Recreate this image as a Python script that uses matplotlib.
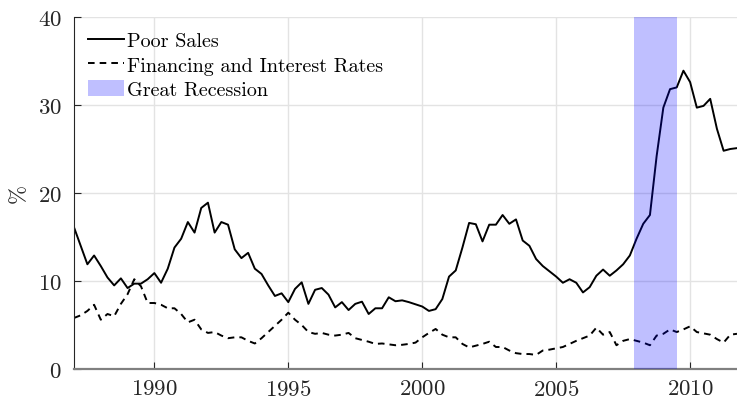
import numpy as np
import matplotlib
matplotlib.use("Agg")
import matplotlib.pyplot as plt
from matplotlib.patches import Patch
from matplotlib.lines import Line2D

# quarterly, 1987Q1 .. 2011Q4
start_year = 1987
poor_sales = [
    16.1, 14.0, 11.9, 12.9, 11.7, 10.4, 9.5, 10.3, 9.2, 9.7, 9.7, 10.2,
    10.9, 9.8, 11.4, 13.8, 14.8, 16.7, 15.5, 18.3, 18.9, 15.5, 16.7, 16.4,
    13.6, 12.6, 13.2, 11.4, 10.8, 9.5, 8.3, 8.6, 7.6, 9.1, 9.85, 7.4,
    9.0, 9.2, 8.45, 7.0, 7.6, 6.7, 7.4, 7.65, 6.25, 6.9, 6.9, 8.15,
    7.7, 7.8, 7.6, 7.35, 7.1, 6.6, 6.8, 7.95, 10.5, 11.2, 13.8, 16.6,
    16.45, 14.5, 16.4, 16.4, 17.5, 16.5, 17.0, 14.6, 14.0, 12.5, 11.7, 11.1,
    10.5, 9.8, 10.2, 9.8, 8.7, 9.3, 10.6, 11.3, 10.6, 11.2, 11.9, 12.9,
    14.8, 16.5, 17.5, 24.2, 29.7, 31.8, 32.0, 33.9, 32.6, 29.7, 29.9, 30.7,
    27.3, 24.8, 25.0, 25.1,
]
financing = [
    5.8, 6.1, 6.6, 7.3, 5.6, 6.25, 6.0, 7.4, 8.5, 10.2, 9.4, 7.5,
    7.5, 7.3, 6.9, 6.9, 6.25, 5.3, 5.6, 4.5, 4.1, 4.2, 3.8, 3.5,
    3.6, 3.6, 3.2, 2.9, 3.5, 4.2, 4.9, 5.6, 6.4, 5.6, 5.0, 4.2,
    4.0, 4.1, 3.9, 3.8, 3.9, 4.1, 3.5, 3.3, 3.1, 2.85, 2.9, 2.8,
    2.7, 2.75, 2.85, 3.0, 3.6, 4.1, 4.55, 3.9, 3.6, 3.6, 2.85, 2.45,
    2.65, 2.85, 3.1, 2.5, 2.5, 2.1, 1.8, 1.7, 1.7, 1.6, 2.1, 2.2,
    2.35, 2.5, 2.85, 3.2, 3.5, 3.8, 4.7, 3.9, 4.2, 2.7, 3.2, 3.4,
    3.2, 3.0, 2.7, 3.8, 4.0, 4.5, 4.2, 4.5, 4.85, 4.2, 4.05, 3.9,
    3.4, 3.0, 3.9, 4.0,
]
recession = (2007.917, 2009.5)
xticks = [1990, 1995, 2000, 2005, 2010]
yticks = [0, 10, 20, 30, 40]

dates = start_year + np.arange(len(poor_sales)) / 4.0

plt.rcParams['font.family'] = ['cmr10', 'DejaVu Serif']
plt.rcParams['mathtext.fontset'] = 'cm'
plt.rcParams['axes.formatter.use_mathtext'] = True

fig = plt.figure(figsize=(7.37, 4.02), dpi=100)
ax = fig.add_axes([74 / 737, 32 / 402, 663 / 737, 352 / 402])

dash = (0, (3.4, 2.6))
ax.plot(dates, poor_sales, color='black', lw=1.4, zorder=2)
ax.plot(dates, financing, color='black', lw=1.4, linestyle=dash, zorder=2)
ax.axvspan(recession[0], recession[1], color='blue', alpha=0.25, lw=0, zorder=3)

ax.set_xlim(1987, 2011.75)
ax.set_ylim(0, 40)
ax.set_xticks(xticks)
ax.set_yticks(yticks)
ax.grid(True, color='#e3e3e3', lw=1.0, zorder=0)
ax.set_axisbelow(True)

for side in ['top', 'right']:
    ax.spines[side].set_visible(False)
ax.spines['left'].set_color('#262626')
ax.spines['bottom'].set_color('#808080')
ax.spines['bottom'].set_linewidth(1.6)
ax.tick_params(direction='in', length=5, width=0.8, labelsize=16.5, colors='#262626')
ax.tick_params(axis='x', pad=7, color='#262626')
ax.tick_params(axis='y', pad=9)

ax.set_ylabel('%', fontsize=16.5, color='#262626', labelpad=6)

handles = [
    Line2D([], [], color='black', lw=1.4),
    Line2D([], [], color='black', lw=1.4, linestyle=dash),
    Patch(facecolor='blue', alpha=0.25, lw=0),
]
labels = ['Poor Sales', 'Financing and Interest Rates', 'Great Recession']
ax.legend(handles, labels, loc='upper left', frameon=False, fontsize=14.5,
          handlelength=1.8, handletextpad=0.15, borderaxespad=0.3,
          borderpad=0.4, labelspacing=0.25, handleheight=0.9)

fig.savefig('out.png', dpi=100)
